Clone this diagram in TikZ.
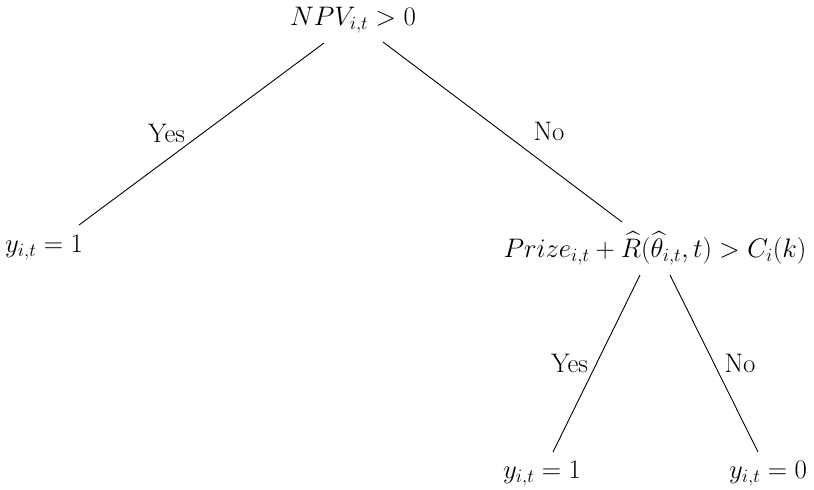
\RequirePackage{fix-cm}
\documentclass[tikz,border=0pt]{standalone}
\usepackage{amsmath}
\begin{document}
\begin{tikzpicture}[x=1pt,y=-1pt,
  txt/.style={font=\fontsize{26.8}{32}\selectfont, inner sep=0pt, anchor=base},
  edge/.style={line width=0.9pt}]
\useasboundingbox (0,0) rectangle (814,490);
% nodes
\node[txt] (root)  at (353,25)  {$NPV_{i,t} > 0$};
\node[txt] (l1)    at (44,252)  {$y_{i,t} = 1$};
\node[txt] (prize) at (655,257) {$Prize_{i,t} + \widehat{R}(\widehat{\theta}_{i,t}, t) > C_i(k)$};
\node[txt] (leafa) at (542,478) {$y_{i,t} = 1$};
\node[txt] (leafb) at (768,478) {$y_{i,t} = 0$};
% labels
\node[txt] (yes1) at (166.5,142) {Yes};
\node[txt] (no1)  at (549,140)   {No};
\node[txt] (yes2) at (569.5,372) {Yes};
\node[txt] (no2)  at (740,372)   {No};
% edges
\draw[edge] ([shift={(-29,18)}]root.base) -- ([shift={(35,-27)}]l1.base);
\draw[edge] ([shift={(30,17)}]root.base) -- ([shift={(-33,-35)}]prize.base);
\draw[edge] ([shift={(-15,18)}]prize.base) -- ([shift={(11,-26)}]leafa.base);
\draw[edge] ([shift={(15,18)}]prize.base) -- ([shift={(-10,-26)}]leafb.base);
\end{tikzpicture}
\end{document}
